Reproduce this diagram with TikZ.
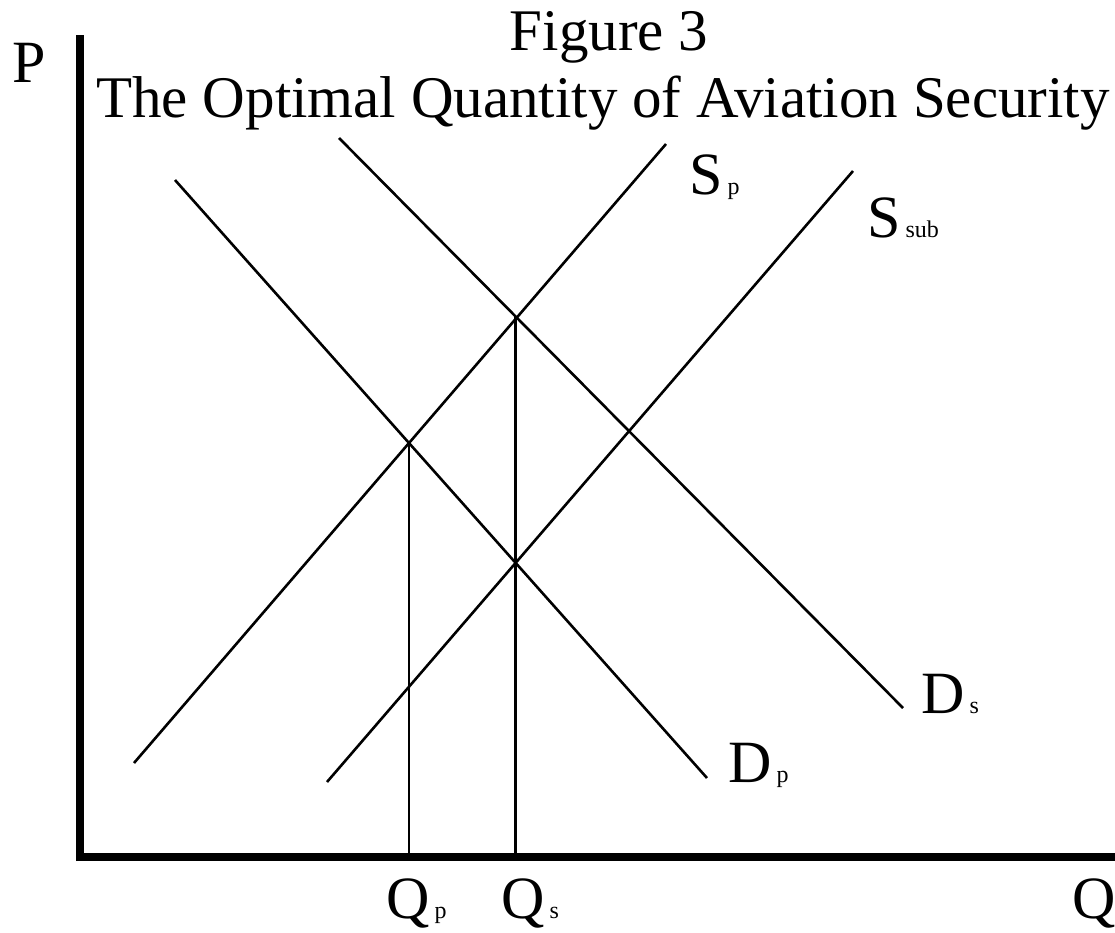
\documentclass[tikz,border=0pt]{standalone}
\usepackage{fontspec}
\setmainfont{Liberation Serif}
\newcommand{\bigtxt}{\fontsize{60}{66}\selectfont}
\newcommand{\ttltxt}{\fontsize{59}{65}\selectfont}
\newcommand{\subtxt}[1]{\hspace{5pt}{\fontsize{24}{26}\selectfont #1}}
\begin{document}
\begin{tikzpicture}[x=1pt,y=-1pt,
  lbl/.style={inner sep=0pt,anchor=base west,font=\bigtxt},
  ttl/.style={inner sep=0pt,anchor=base,font=\ttltxt},
  curve/.style={line width=2.6pt},
  axis/.style={line width=8pt}]
\useasboundingbox (0,0) rectangle (1115,933);
% axes
\coordinate (O) at (80,857);
\coordinate (ytop) at (80,35);
\coordinate (xend) at (1115,857);
\draw[axis] (80,861) -- (ytop);
\draw[axis] (76,857) -- (xend);
% curves
\coordinate (sp1) at (134,763);   \coordinate (sp2) at (666,144);
\coordinate (ss1) at (327,782);   \coordinate (ss2) at (853,171);
\coordinate (dp1) at (175,180);   \coordinate (dp2) at (707,778);
\coordinate (ds1) at (339,138);   \coordinate (ds2) at (903,708);
\draw[curve] (sp1) -- (sp2);
\draw[curve] (ss1) -- (ss2);
\draw[curve] (dp1) -- (dp2);
\draw[curve] (ds1) -- (ds2);
% equilibrium drops
\coordinate (ep) at (409,443);  \coordinate (epb) at (409,853);
\coordinate (es) at (515.5,317); \coordinate (esb) at (515.5,853);
\draw[curve] (ep) -- (epb);
\draw[curve] (es) -- (esb);
% titles
\node[ttl] (t1) at (609,51) {Figure 3};
\node[ttl] (t2) at (603,118) {The Optimal Quantity of Aviation Security};
% labels
\node[lbl] (P) at (12,83) {P};
\node[lbl] (Q) at (1072,918) {Q};
\node[lbl] (Sp) at (689,195) {S\subtxt{p}};
\node[lbl] (Ssub) at (867,237) {S\subtxt{sub}};
\node[lbl] (Ds) at (921,713) {D\subtxt{s}};
\node[lbl] (Dp) at (728,782) {D\subtxt{p}};
\node[lbl] (Qp) at (386,918) {Q\subtxt{p}};
\node[lbl] (Qs) at (501,918) {Q\subtxt{s}};
\end{tikzpicture}
\end{document}
